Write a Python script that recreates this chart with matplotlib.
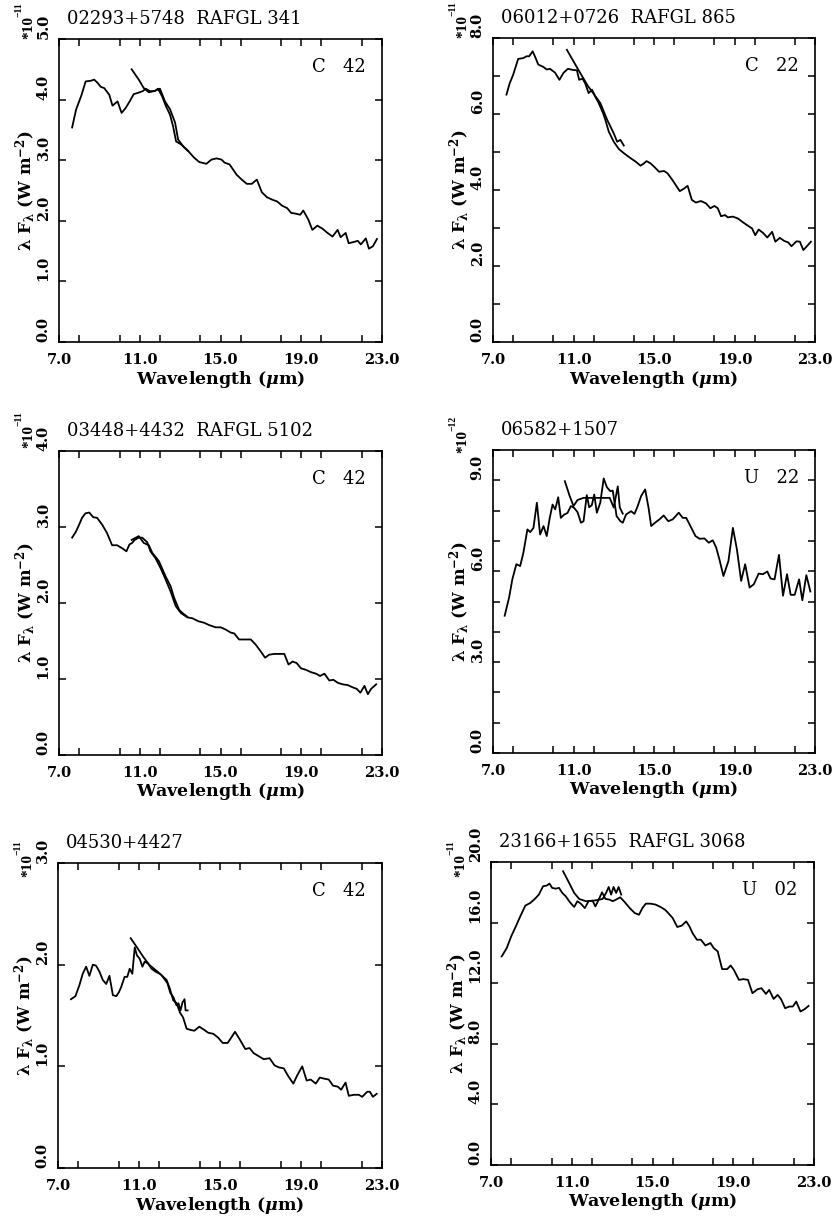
import numpy as np
import matplotlib.pyplot as plt
from matplotlib.ticker import MultipleLocator
from matplotlib.transforms import offset_copy

plt.rcParams['font.family'] = 'DejaVu Serif'
plt.rcParams['mathtext.fontset'] = 'custom'
plt.rcParams['mathtext.rm'] = 'DejaVu Serif:bold'
plt.rcParams['mathtext.it'] = 'DejaVu Serif:italic:bold'
plt.rcParams['mathtext.bf'] = 'DejaVu Serif:bold'

# %%
# IRAS 02293+5748  RAFGL 341
p1_wl = [7.65, 7.85, 8.1, 8.32, 8.57, 8.74, 8.9, 9.07, 9.24, 9.49, 9.65, 9.9, 10.1, 10.3, 10.5, 10.7,
         10.9, 11.15, 11.3, 11.5, 11.75, 11.9, 12.1, 12.3, 12.5, 12.65, 12.8, 13.05, 13.4, 13.7, 13.95,
         14.3, 14.55, 14.8, 15.05, 15.2, 15.45, 15.8, 16.05, 16.3, 16.55, 16.8, 17.05, 17.3, 17.55, 17.8,
         18.05, 18.3, 18.5, 18.7, 18.95, 19.1, 19.35, 19.55, 19.8, 20.05, 20.3, 20.55, 20.8, 20.95, 21.2,
         21.35, 21.6, 21.8, 21.95, 22.2, 22.35, 22.55, 22.75]
p1_flux = [3.54, 3.84, 4.06, 4.30, 4.31, 4.33, 4.28, 4.21, 4.19, 4.08, 3.90, 3.97, 3.78, 3.86, 3.97, 4.09,
           4.11, 4.14, 4.18, 4.14, 4.14, 4.18, 4.06, 3.89, 3.75, 3.56, 3.31, 3.26, 3.15, 3.04, 2.97,
           2.94, 3.01, 3.03, 3.01, 2.96, 2.93, 2.76, 2.68, 2.61, 2.61, 2.68, 2.47, 2.39, 2.35, 2.32,
           2.25, 2.21, 2.13, 2.12, 2.10, 2.17, 2.02, 1.85, 1.92, 1.87, 1.80, 1.74, 1.85, 1.73, 1.80,
           1.63, 1.65, 1.67, 1.61, 1.71, 1.54, 1.58, 1.70]
p1_wl_b = [10.6, 10.95, 11.2, 11.45, 11.7, 12.0, 12.25, 12.5, 12.75, 12.9, 13.15, 13.4]
p1_flux_b = [4.50, 4.33, 4.19, 4.12, 4.14, 4.18, 3.97, 3.84, 3.62, 3.34, 3.23, 3.15]

# IRAS 06012+0726  RAFGL 865
p2_wl = [7.67, 7.83, 8.0, 8.25, 8.5, 8.67, 8.8, 8.97, 9.08, 9.25, 9.5, 9.67, 9.83, 10.08, 10.3, 10.5,
         10.72, 10.97, 11.17, 11.28, 11.45, 11.58, 11.75, 11.92, 12.08, 12.25, 12.47, 12.58, 12.75, 13.0,
         13.25, 13.5, 13.83, 14.08, 14.33, 14.5, 14.63, 14.83, 15.03, 15.25, 15.5, 15.67, 15.92, 16.08,
         16.28, 16.5, 16.67, 16.88, 17.08, 17.33, 17.58, 17.8, 18.0, 18.17, 18.33, 18.53, 18.67, 18.92,
         19.17, 19.42, 19.67, 19.87, 20.03, 20.2, 20.42, 20.63, 20.87, 21.03, 21.25, 21.47, 21.67, 21.83,
         22.08, 22.25, 22.42, 22.58, 22.8]
p2_flux = [6.51, 6.81, 7.03, 7.45, 7.47, 7.52, 7.52, 7.65, 7.52, 7.30, 7.24, 7.17, 7.19, 7.09, 6.90, 7.08,
           7.19, 7.16, 7.15, 6.90, 6.93, 6.81, 6.55, 6.64, 6.46, 6.29, 6.02, 5.85, 5.54, 5.27,
           5.08, 4.97, 4.84, 4.75, 4.64, 4.70, 4.76, 4.70, 4.60, 4.48, 4.50, 4.44, 4.26, 4.13,
           3.97, 4.04, 4.11, 3.74, 3.67, 3.71, 3.65, 3.52, 3.58, 3.52, 3.31, 3.34, 3.28, 3.30,
           3.25, 3.15, 3.06, 2.99, 2.81, 2.96, 2.87, 2.75, 2.90, 2.64, 2.74, 2.66, 2.62, 2.52,
           2.65, 2.64, 2.42, 2.51, 2.64]
p2_wl_b = [10.67, 11.2, 11.7, 12.33, 12.67, 13.0, 13.17, 13.33, 13.5]
p2_flux_b = [7.69, 7.2, 6.75, 6.29, 5.85, 5.49, 5.27, 5.32, 5.17]

# IRAS 03448+4432  RAFGL 5102
p3_wl = [7.65, 7.84, 7.98, 8.14, 8.31, 8.5, 8.69, 8.89, 9.14, 9.38, 9.63, 9.88, 10.13, 10.34, 10.49,
         10.62, 10.75, 10.95, 11.12, 11.37, 11.53, 11.78, 12.03, 12.28, 12.53, 12.78, 13.03, 13.36,
         13.6, 13.9, 14.19, 14.43, 14.76, 15.01, 15.26, 15.51, 15.68, 15.92, 16.17, 16.5, 16.75, 17.0,
         17.21, 17.41, 17.66, 17.91, 18.16, 18.37, 18.57, 18.77, 18.99, 19.24, 19.48, 19.73, 19.93,
         20.15, 20.39, 20.59, 20.81, 21.05, 21.3, 21.55, 21.75, 21.93, 22.13, 22.3, 22.46, 22.71]
p3_flux = [2.86, 2.94, 3.02, 3.12, 3.18, 3.19, 3.13, 3.12, 3.03, 2.92, 2.76, 2.76, 2.72, 2.68, 2.77,
           2.79, 2.83, 2.86, 2.86, 2.80, 2.68, 2.59, 2.46, 2.31, 2.15, 1.96, 1.87, 1.81,
           1.80, 1.76, 1.74, 1.71, 1.68, 1.68, 1.65, 1.61, 1.60, 1.52, 1.52, 1.52, 1.45, 1.36,
           1.28, 1.32, 1.33, 1.33, 1.33, 1.19, 1.23, 1.21, 1.14, 1.12, 1.09, 1.07, 1.04,
           1.07, 0.98, 0.99, 0.95, 0.93, 0.92, 0.89, 0.87, 0.82, 0.91, 0.80, 0.87, 0.93]
p3_wl_b = [10.6, 10.95, 11.2, 11.45, 11.62, 11.95, 12.28, 12.53, 12.7, 12.95, 13.2, 13.36]
p3_flux_b = [2.83, 2.88, 2.79, 2.76, 2.66, 2.55, 2.35, 2.22, 2.07, 1.91, 1.85, 1.82]

# IRAS 06582+1507
p4_wl = [7.58, 7.8, 7.96, 8.16, 8.35, 8.51, 8.71, 8.85, 9.01, 9.18, 9.34, 9.51, 9.67, 9.82, 9.96,
         10.09, 10.24, 10.37, 10.54, 10.7, 10.87, 11.03, 11.2, 11.37, 11.5, 11.66, 11.78, 11.91, 12.03,
         12.16, 12.33, 12.5, 12.66, 12.83, 12.95, 13.03, 13.14, 13.33, 13.45, 13.61, 13.86, 14.03,
         14.19, 14.36, 14.56, 14.73, 14.86, 15.05, 15.27, 15.48, 15.71, 15.93, 16.23, 16.43, 16.6,
         16.81, 17.06, 17.26, 17.51, 17.72, 17.92, 18.09, 18.25, 18.45, 18.7, 18.92, 19.12, 19.33,
         19.53, 19.75, 19.96, 20.2, 20.41, 20.63, 20.79, 20.99, 21.21, 21.41, 21.61, 21.79, 21.99,
         22.21, 22.37, 22.57, 22.77]
p4_flux = [4.53, 5.13, 5.73, 6.23, 6.17, 6.61, 7.38, 7.29, 7.43, 8.26, 7.21, 7.49, 7.16, 7.76, 8.20,
           8.04, 8.44, 7.76, 7.87, 7.92, 8.15, 8.09, 7.95, 7.60, 7.65, 8.51, 8.11, 8.18, 8.53,
           7.93, 8.26, 9.06, 8.77, 8.64, 8.66, 8.31, 7.82, 7.65, 7.60, 7.87, 7.98, 7.89,
           8.15, 8.48, 8.70, 8.09, 7.49, 7.60, 7.71, 7.84, 7.65, 7.71, 7.93, 7.76, 7.76,
           7.49, 7.16, 7.07, 7.08, 6.94, 7.02, 6.78, 6.39, 5.84, 6.34, 7.43, 6.72, 5.68,
           6.23, 5.46, 5.57, 5.92, 5.90, 5.99, 5.76, 5.73, 6.54, 5.19, 5.90, 5.22, 5.22,
           5.73, 5.04, 5.87, 5.33]
p4_wl_b = [10.57, 10.8, 11.0, 11.2, 11.5, 12.0, 12.5, 12.8, 13.0, 13.2, 13.3, 13.45]
p4_flux_b = [8.97, 8.5, 8.15, 8.35, 8.42, 8.42, 8.42, 8.42, 8.1, 8.8, 8.1, 7.9]

# IRAS 04530+4427
p5_wl = [7.64, 7.86, 8.06, 8.22, 8.39, 8.55, 8.72, 8.88, 9.05, 9.21, 9.38, 9.54, 9.71, 9.88, 10.01,
         10.12, 10.29, 10.42, 10.54, 10.67, 10.79, 10.9, 11.03, 11.17, 11.28, 11.45, 11.62, 11.83,
         12.03, 12.2, 12.36, 12.53, 12.69, 12.86, 13.02, 13.18, 13.35, 13.51, 13.73, 13.98, 14.21,
         14.42, 14.67, 14.92, 15.13, 15.38, 15.58, 15.74, 15.96, 16.25, 16.46, 16.66, 16.91, 17.16,
         17.45, 17.69, 17.9, 18.15, 18.35, 18.62, 18.81, 19.06, 19.28, 19.48, 19.73, 19.93, 20.12,
         20.37, 20.58, 20.82, 20.98, 21.2, 21.36, 21.61, 21.86, 22.02, 22.27, 22.4, 22.55, 22.74]
p5_flux = [1.66, 1.69, 1.80, 1.91, 1.98, 1.89, 2.00, 1.99, 1.93, 1.85, 1.81, 1.89, 1.70, 1.69, 1.73,
           1.78, 1.88, 1.88, 1.96, 1.91, 2.17, 2.09, 2.06, 1.98, 2.03, 2.01, 1.96, 1.93,
           1.91, 1.88, 1.85, 1.76, 1.65, 1.62, 1.53, 1.48, 1.37, 1.36, 1.35, 1.39, 1.36,
           1.33, 1.32, 1.28, 1.23, 1.23, 1.29, 1.34, 1.27, 1.17, 1.18, 1.13, 1.10, 1.07,
           1.08, 1.01, 0.99, 0.98, 0.91, 0.83, 0.91, 1.00, 0.86, 0.87, 0.83, 0.89, 0.88,
           0.87, 0.81, 0.80, 0.77, 0.84, 0.71, 0.72, 0.72, 0.70, 0.75, 0.75, 0.70, 0.73]
p5_wl_b = [10.59, 10.9, 11.2, 11.5, 11.8, 12.1, 12.4, 12.55, 12.7, 12.85, 12.95, 13.05, 13.15, 13.25,
           13.3, 13.4]
p5_flux_b = [2.26, 2.17, 2.08, 2.00, 1.95, 1.90, 1.82, 1.72, 1.68, 1.60, 1.62, 1.55, 1.63, 1.66,
             1.55, 1.55]

# IRAS 23166+1655  RAFGL 3068
p6_wl = [7.53, 7.78, 8.0, 8.23, 8.45, 8.7, 8.95, 9.17, 9.37, 9.58, 9.75, 9.9, 10.03, 10.2, 10.37,
         10.53, 10.7, 10.9, 11.12, 11.28, 11.45, 11.65, 11.83, 12.03, 12.17, 12.32, 12.5, 12.67, 12.87,
         13.03, 13.2, 13.4, 13.62, 13.87, 14.12, 14.33, 14.5, 14.67, 14.9, 15.15, 15.4, 15.62, 15.78,
         16.0, 16.23, 16.45, 16.67, 16.83, 17.0, 17.2, 17.4, 17.62, 17.87, 18.03, 18.23, 18.45, 18.7,
         18.87, 19.03, 19.28, 19.5, 19.73, 19.95, 20.2, 20.4, 20.62, 20.78, 21.0, 21.2, 21.37, 21.57,
         21.78, 21.95, 22.12, 22.33, 22.53, 22.73]
p6_flux = [13.77, 14.32, 15.09, 15.75, 16.41, 17.12, 17.30, 17.56, 17.85, 18.40, 18.44, 18.57, 18.29,
           18.24, 18.29, 17.96, 17.74, 17.36, 17.03, 17.41, 17.25, 16.96, 17.41, 17.45, 17.07, 17.47,
           18.00, 17.56, 17.52, 17.41, 17.52, 17.67, 17.36, 16.96, 16.63, 16.52, 16.96, 17.25, 17.25,
           17.19, 17.03, 16.85, 16.63, 16.30, 15.71, 15.80, 16.08, 15.75, 15.27, 14.87, 14.87, 14.49,
           14.65, 14.32, 14.10, 12.93, 12.93, 13.17, 12.88, 12.22, 12.27, 12.22, 11.34, 11.60, 11.67,
           11.29, 11.56, 10.96, 11.23, 10.94, 10.35, 10.46, 10.46, 10.79, 10.13, 10.28, 10.50]
p6_wl_b = [10.57, 10.87, 11.12, 11.37, 11.7, 12.1, 12.53, 12.7, 12.83, 12.95, 13.07, 13.2, 13.32, 13.45]
p6_flux_b = [19.39, 18.62, 17.96, 17.56, 17.41, 17.45, 17.56, 17.96, 18.35, 17.85, 18.35, 17.96, 18.35, 17.85]

titles = ['02293+5748  RAFGL 341', '06012+0726  RAFGL 865', '03448+4432  RAFGL 5102',
          '06582+1507', '04530+4427', '23166+1655  RAFGL 3068']
classes = ['C   42', 'C   22', 'C   42', 'U   22', 'C   42', 'U   02']
exponents = ['\u221211', '\u221211', '\u221211', '\u221212', '\u221211', '\u221211']
ymax = [5.0, 8.0, 4.0, 10.0, 3.0, 20.0]
ymajor = [1.0, 2.0, 1.0, 3.0, 1.0, 4.0]
yminor = [1.0, 1.0, 1.0, 1.0, 1.0, 4.0]

# %%
W, H = 835, 1216
fig = plt.figure(figsize=(W / 100, H / 100), dpi=100)

# axes boxes in pixels: left, right, top, bottom
boxes = [(59, 382, 39, 342), (493, 815, 38, 342),
         (59, 382, 451, 755), (493, 815, 450, 753),
         (58, 382, 863, 1168), (491, 814, 862, 1165)]
# how far the *10^n label sits below the top of the axes (pixels)
exp_dy = [0, 0, -3, 3, 14, 15]

panels = [(p1_wl, p1_flux, p1_wl_b, p1_flux_b), (p2_wl, p2_flux, p2_wl_b, p2_flux_b),
          (p3_wl, p3_flux, p3_wl_b, p3_flux_b), (p4_wl, p4_flux, p4_wl_b, p4_flux_b),
          (p5_wl, p5_flux, p5_wl_b, p5_flux_b), (p6_wl, p6_flux, p6_wl_b, p6_flux_b)]

for i, (wl, fl, wlb, flb) in enumerate(panels):
    l, r, t, b = boxes[i]
    ax = fig.add_axes([l / W, 1 - b / H, (r - l) / W, (b - t) / H])
    ax.plot(wl, fl, 'k-', lw=1.3)
    ax.plot(wlb, flb, 'k-', lw=1.3)

    ax.set_xlim(7, 23)
    ax.set_ylim(0, ymax[i])
    ax.set_xticks([7, 11, 15, 19, 23])
    ax.set_xticklabels(['7.0', '11.0', '15.0', '19.0', '23.0'])
    ax.xaxis.set_minor_locator(MultipleLocator(2))
    yt = np.arange(0, ymax[i] + 0.01, ymajor[i])
    ax.set_yticks(yt)
    ax.set_yticklabels(['%.1f' % v for v in yt])
    ax.yaxis.set_minor_locator(MultipleLocator(yminor[i]))

    ax.tick_params(which='both', direction='in', top=True, right=True, length=5, width=1.1)
    ax.tick_params(axis='x', labelsize=10.5, pad=8)
    ax.tick_params(axis='y', labelsize=10.5, pad=6)
    for lab in ax.get_xticklabels():
        lab.set_fontweight('bold')
    for lab in ax.get_yticklabels():
        lab.set_fontweight('bold')
        lab.set_rotation(90)
        lab.set_va('bottom')
    for s in ax.spines.values():
        s.set_linewidth(1.2)

    ax.set_xlabel(r'Wavelength ($\mu$m)', fontsize=12.5, fontweight='bold', labelpad=1)
    ax.set_ylabel(r'λ F$_{\mathrm{λ}}$ (W m$^{-2}$)', fontsize=12, fontweight='bold')
    ax.yaxis.set_label_coords(-0.066, 0.5)

    # *10 with a small superscript exponent, rotated like the tick labels
    tr = offset_copy(ax.transAxes, fig=fig, x=-30, y=-exp_dy[i], units='dots')
    ax.text(0, 1, '*10', transform=tr, rotation=90, ha='center', va='bottom',
            fontsize=11, fontweight='bold', family='Liberation Serif')
    tr2 = offset_copy(ax.transAxes, fig=fig, x=-40, y=-exp_dy[i] + 22, units='dots')
    ax.text(0, 1, exponents[i], transform=tr2, rotation=90, ha='center', va='bottom',
            fontsize=7, fontweight='bold', family='Liberation Serif')

    ax.text(0.025, 1.035, titles[i], transform=ax.transAxes, fontsize=13,
            ha='left', va='bottom')
    ax.text(0.95, 0.907, classes[i], transform=ax.transAxes, fontsize=13,
            ha='right', va='center')

fig.savefig('out.png', dpi=100)
